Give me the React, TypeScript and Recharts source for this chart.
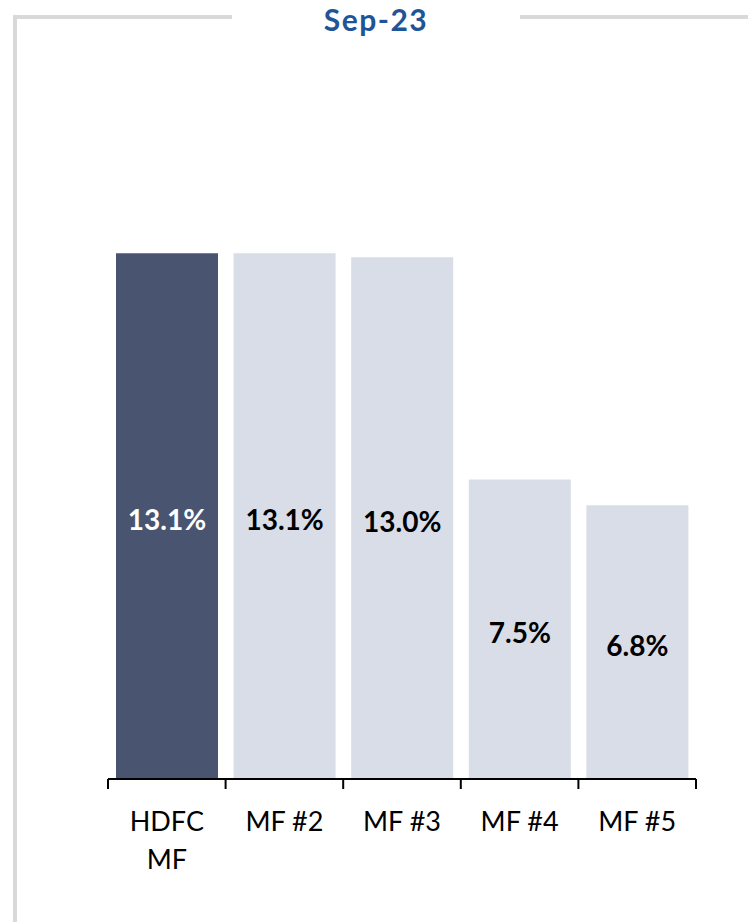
import React from 'react';
import { BarChart, Bar, XAxis, YAxis, Cell, LabelList } from 'recharts';

const categories = ['HDFC MF', 'MF #2', 'MF #3', 'MF #4', 'MF #5'];
const shares = [13.1, 13.1, 13.0, 7.46, 6.82];
const highlighted = [true, false, false, false, false];
const title = 'Sep-23';

const data = categories.map((name, i) => ({ name, value: shares[i], hi: highlighted[i] }));

const W = 748;
const H = 922;
const MARGIN = { top: 177, right: 52, left: 108, bottom: 83 };
const PLOT_W = W - MARGIN.left - MARGIN.right;
const STEP = PLOT_W / categories.length;
const FONT = 'Lato, "Open Sans", sans-serif';

const DARK = '#485470';
const LIGHT = '#D9DDE7';

const splitLabel = (s: string): string[] => {
  if (s.length <= 6) return [s];
  const idx = s.lastIndexOf(' ');
  return idx > 0 ? [s.slice(0, idx), s.slice(idx + 1)] : [s];
};

const AxisTick = (props: any) => {
  const { x, y, payload, index } = props;
  const isLast = index === categories.length - 1;
  const lines = splitLabel(String(payload.value));
  return (
    <g>
      <line x1={x - STEP / 2} x2={x - STEP / 2} y1={y} y2={y + 10} stroke="#000" strokeWidth={2} />
      {isLast && (
        <line x1={x + STEP / 2} x2={x + STEP / 2} y1={y} y2={y + 10} stroke="#000" strokeWidth={2} />
      )}
      <text x={x} y={y + 52} textAnchor="middle" fontFamily={FONT} fontSize={27} fill="#000">
        {lines.map((ln, i) => (
          <tspan key={i} x={x} dy={i === 0 ? 0 : 38}>
            {ln}
          </tspan>
        ))}
      </text>
    </g>
  );
};

const BarLabel = (props: any) => {
  const { x, y, width, height, index, value } = props;
  return (
    <text
      x={x + width / 2}
      y={y + height / 2 + 3}
      textAnchor="middle"
      dominantBaseline="central"
      fontFamily={FONT}
      fontWeight={700}
      fontSize={28}
      fill={highlighted[index] ? '#FFFFFF' : '#000000'}
    >
      {Number(value).toFixed(1) + '%'}
    </text>
  );
};

export default function App() {
  return (
    <div style={{ position: 'absolute', left: 0, top: 0, width: W, height: H, background: '#fff' }}>
      <div style={{ position: 'absolute', left: 13, top: 15, width: 4, height: H - 15, background: '#D9D9D9' }} />
      <div style={{ position: 'absolute', left: 13, top: 15, width: 219, height: 4, background: '#D9D9D9' }} />
      <div style={{ position: 'absolute', left: 520, top: 15, width: W - 520, height: 4, background: '#D9D9D9' }} />
      <div
        style={{
          position: 'absolute',
          left: 232,
          width: 288,
          top: 1,
          textAlign: 'center',
          fontFamily: FONT,
          fontWeight: 700,
          fontSize: 30,
          lineHeight: '36px',
          color: '#1F5597',
          letterSpacing: 1.5,
        }}
      >
        {title}
      </div>
      <div style={{ position: 'absolute', left: 0, top: 0 }}>
        <BarChart width={W} height={H} data={data} margin={MARGIN}>
          <YAxis hide domain={[0, 15]} />
          <XAxis
            dataKey="name"
            height={60}
            axisLine={{ stroke: '#000', strokeWidth: 2 }}
            tickLine={false}
            tickSize={0}
            tickMargin={0}
            interval={0}
            tick={<AxisTick />}
          />
          <Bar dataKey="value" barSize={102} isAnimationActive={false}>
            {data.map((d, i) => (
              <Cell key={i} fill={d.hi ? DARK : LIGHT} />
            ))}
            <LabelList dataKey="value" content={<BarLabel />} />
          </Bar>
        </BarChart>
      </div>
    </div>
  );
}
